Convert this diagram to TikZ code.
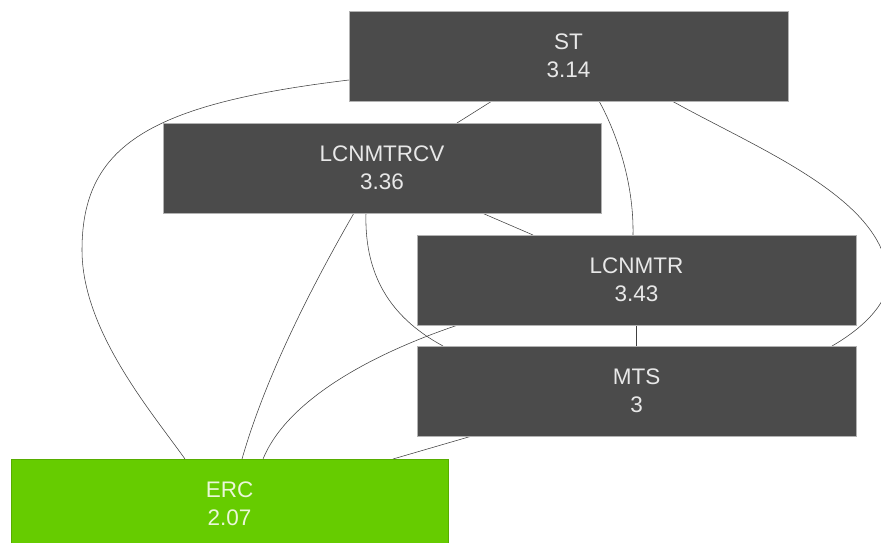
\documentclass[tikz,border=0pt]{standalone}
\usepackage{fontspec}
\setmainfont{Liberation Sans}
\usetikzlibrary{calc}
\definecolor{boxgray}{HTML}{4B4B4B}
\definecolor{boxgreen}{HTML}{66CC00}
\definecolor{txtgray}{HTML}{E8E8E8}
\definecolor{txtgreen}{HTML}{EAF7D8}
\pgfdeclarelayer{bg}
\pgfsetlayers{bg,main}
\begin{document}
\begin{tikzpicture}[x=1pt,y=-1pt,
  box/.style={rectangle, fill=boxgray, draw=gray!60, line width=0.6pt,
    minimum width=439pt, minimum height=90pt, inner sep=0pt, outer sep=0pt,
    align=center, text=txtgray, font=\fontsize{22.5}{28}\selectfont},
  greenbox/.style={box, fill=boxgreen, draw=boxgreen!85!black, text=txtgreen},
  link/.style={draw=black!75, line width=0.55pt}]
\clip (0,0) rectangle (881,543);
\node[box] (st) at (568.5,56) {ST\\3.14};
\node[box, minimum width=438pt] (lcv) at (382,168) {LCNMTRCV\\3.36};
\node[box] (lcn) at (636.5,280) {LCNMTR\\3.43};
\node[box] (mts) at (636.5,391) {MTS\\3};
\node[greenbox, minimum width=437pt] (erc) at (229.5,504) {ERC\\2.07};
\begin{pgfonlayer}{bg}
\fill[white] (0,0) rectangle (881,543);
% ST -> ERC
\draw[link] ($(st.north west)+(0,69)$) .. controls (150,104) and (82,145) .. (82,250)
  .. controls (82,330) and (150,410) .. ($(erc.north west)+(174,0)$);
% ST -> LCNMTRCV
\draw[link] ($(st.north west)+(143,90)$) -- ($(lcv.north west)+(294,0)$);
% ST -> LCNMTR
\draw[link] ($(st.north west)+(250,90)$) .. controls (615,130) and (634,180) .. ($(lcn.north west)+(216,0)$);
% ST -> MTS
\draw[link] ($(st.north west)+(323,90)$) .. controls (760,150) and (888,200) .. (888,280)
  .. controls (888,305) and (860,330) .. ($(mts.north west)+(415,0)$);
% LCNMTRCV -> LCNMTR
\draw[link] ($(lcv.north west)+(319,90)$) -- ($(lcn.north west)+(116,0)$);
% LCNMTRCV -> ERC
\draw[link] ($(lcv.north west)+(191,90)$) .. controls (308,293) and (265,379) .. ($(erc.north west)+(231,0)$);
% LCNMTRCV -> MTS
\draw[link] ($(lcv.north west)+(203,90)$) .. controls (364,280) and (395,320) .. ($(mts.north west)+(26,0)$);
% LCNMTR -> ERC
\draw[link] ($(lcn.north west)+(41,90)$) .. controls (360,358) and (285,405) .. ($(erc.north west)+(252,0)$);
% LCNMTR -> MTS
\draw[link] (lcn.south) -- (mts.north);
% MTS -> ERC
\draw[link] ($(mts.north west)+(55,90)$) -- ($(erc.north west)+(382,0)$);
\end{pgfonlayer}
\end{tikzpicture}
\end{document}
